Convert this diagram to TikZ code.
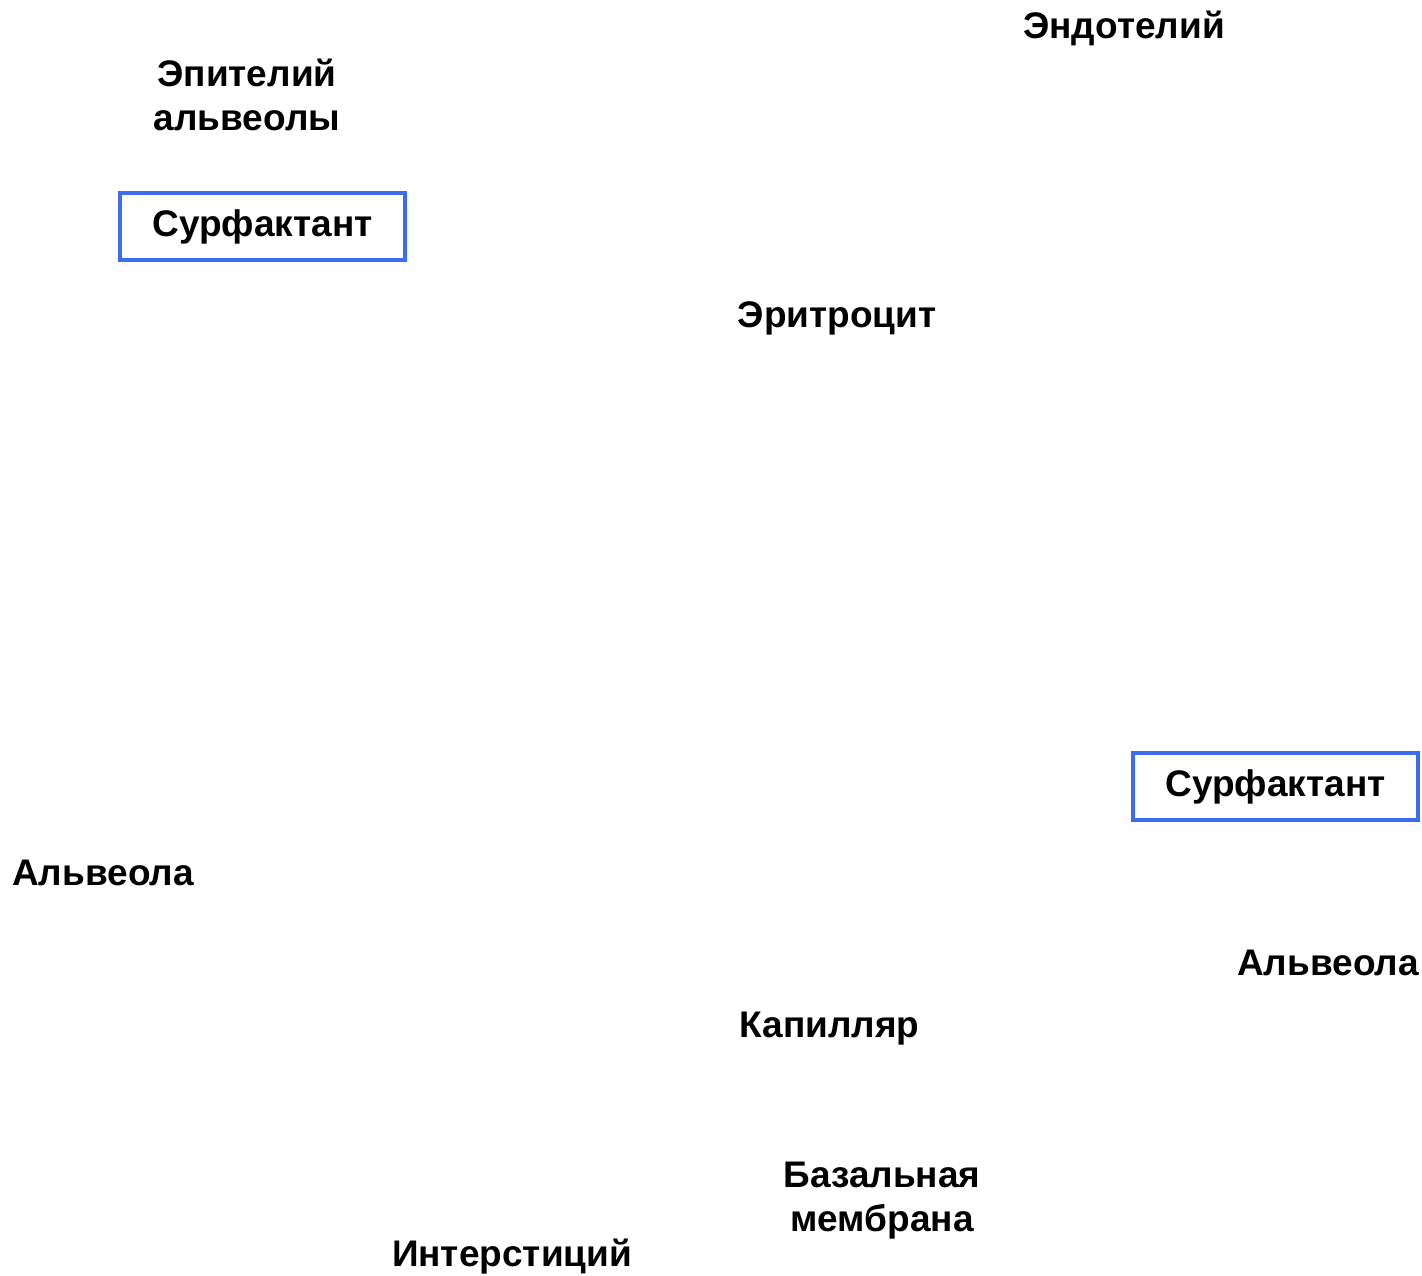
\documentclass[tikz,border=0pt]{standalone}
\usepackage{fontspec}
\setmainfont{Liberation Sans}
\definecolor{surfblue}{RGB}{60,108,242}
\tikzset{
  lbl/.style={font=\bfseries, anchor=base, align=center, inner sep=0pt},
  surfbox/.style={draw=surfblue, line width=2pt, font=\bfseries,
    minimum width=142.5pt, minimum height=33.5pt, inner sep=0pt}
}
\begin{document}
\begin{tikzpicture}[x=0.5pt, y=-0.5pt]
\fontsize{18.5pt}{22pt}\selectfont
\useasboundingbox (0,0) rectangle (1422,1275);

\node[lbl] (endo) at (1124,38) {Эндотелий};
\node[lbl] (epit) at (247,130) {Эпителий\\альвеолы};
\node[lbl] (eryt) at (837,327) {Эритроцит};

\node[lbl] (alvA) at (103,885) {Альвеола};
\node[lbl] (alvB) at (1328,975) {Альвеола};
\node[lbl] (kap) at (829.5,1037) {Капилляр};
\node[lbl] (bazm) at (882,1231) {Базальная\\мембрана};
\node[lbl] (inter) at (512,1266) {Интерстиций};

% surfactant boxes
\node[surfbox] (surfA) at (262.5,226.5) {Сурфактант};
\node[surfbox] (surfB) at (1275.5,786.5) {Сурфактант};
\end{tikzpicture}
\end{document}
